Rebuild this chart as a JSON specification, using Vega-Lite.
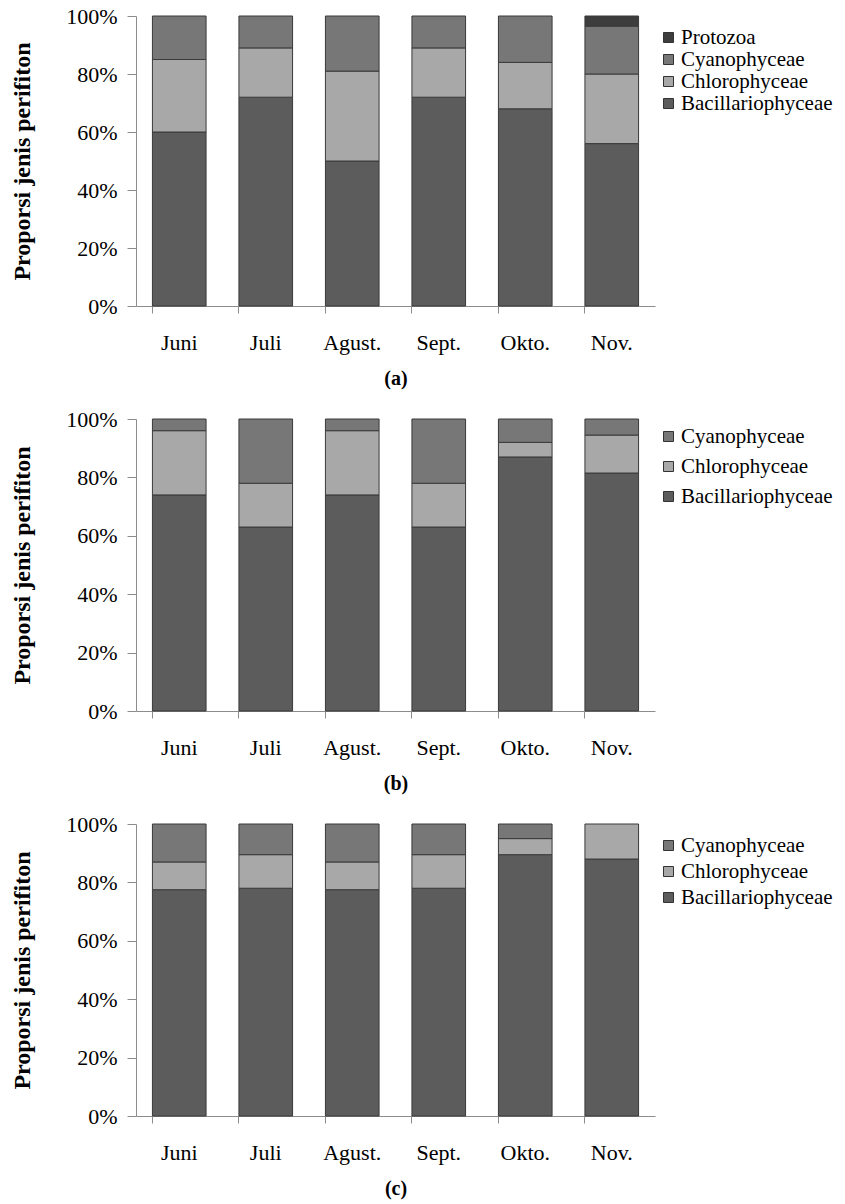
{
  "$schema": "https://vega.github.io/schema/vega-lite/v6.json",
  "background": "white",
  "padding": {"left": 10, "top": 5, "right": 2, "bottom": 5},
  "config": {
    "font": "Liberation Serif",
    "view": {"stroke": null},
    "concat": {"spacing": 20},
    "axis": {
      "labelFont": "Liberation Serif",
      "labelFontSize": 22,
      "labelColor": "#000000",
      "domainColor": "#8c8c8c",
      "tickColor": "#8c8c8c",
      "grid": false,
      "titleFont": "Liberation Serif",
      "titleFontSize": 24,
      "titleColor": "#000000",
      "titleFontWeight": "bold"
    },
    "legend": {
      "orient": "none",
      "legendX": 522,
      "symbolType": "square",
      "symbolSize": 100,
      "symbolStrokeColor": "#333333",
      "symbolStrokeWidth": 1,
      "labelFont": "Liberation Serif",
      "labelFontSize": 21,
      "labelColor": "#000000",
      "labelOffset": 2
    }
  },
  "datasets": {
    "d": [
      {"panel": "a", "bulan": "Juni", "kelas": "Bacillariophyceae", "urut": 1, "nilai": 60},
      {"panel": "a", "bulan": "Juni", "kelas": "Chlorophyceae", "urut": 2, "nilai": 25},
      {"panel": "a", "bulan": "Juni", "kelas": "Cyanophyceae", "urut": 3, "nilai": 15},
      {"panel": "a", "bulan": "Juli", "kelas": "Bacillariophyceae", "urut": 1, "nilai": 72},
      {"panel": "a", "bulan": "Juli", "kelas": "Chlorophyceae", "urut": 2, "nilai": 17},
      {"panel": "a", "bulan": "Juli", "kelas": "Cyanophyceae", "urut": 3, "nilai": 11},
      {"panel": "a", "bulan": "Agust.", "kelas": "Bacillariophyceae", "urut": 1, "nilai": 50},
      {"panel": "a", "bulan": "Agust.", "kelas": "Chlorophyceae", "urut": 2, "nilai": 31},
      {"panel": "a", "bulan": "Agust.", "kelas": "Cyanophyceae", "urut": 3, "nilai": 19},
      {"panel": "a", "bulan": "Sept.", "kelas": "Bacillariophyceae", "urut": 1, "nilai": 72},
      {"panel": "a", "bulan": "Sept.", "kelas": "Chlorophyceae", "urut": 2, "nilai": 17},
      {"panel": "a", "bulan": "Sept.", "kelas": "Cyanophyceae", "urut": 3, "nilai": 11},
      {"panel": "a", "bulan": "Okto.", "kelas": "Bacillariophyceae", "urut": 1, "nilai": 68},
      {"panel": "a", "bulan": "Okto.", "kelas": "Chlorophyceae", "urut": 2, "nilai": 16},
      {"panel": "a", "bulan": "Okto.", "kelas": "Cyanophyceae", "urut": 3, "nilai": 16},
      {"panel": "a", "bulan": "Nov.", "kelas": "Bacillariophyceae", "urut": 1, "nilai": 56},
      {"panel": "a", "bulan": "Nov.", "kelas": "Chlorophyceae", "urut": 2, "nilai": 24},
      {"panel": "a", "bulan": "Nov.", "kelas": "Cyanophyceae", "urut": 3, "nilai": 16.5},
      {"panel": "a", "bulan": "Nov.", "kelas": "Protozoa", "urut": 4, "nilai": 3.5},
      {"panel": "b", "bulan": "Juni", "kelas": "Bacillariophyceae", "urut": 1, "nilai": 74},
      {"panel": "b", "bulan": "Juni", "kelas": "Chlorophyceae", "urut": 2, "nilai": 22},
      {"panel": "b", "bulan": "Juni", "kelas": "Cyanophyceae", "urut": 3, "nilai": 4},
      {"panel": "b", "bulan": "Juli", "kelas": "Bacillariophyceae", "urut": 1, "nilai": 63},
      {"panel": "b", "bulan": "Juli", "kelas": "Chlorophyceae", "urut": 2, "nilai": 15},
      {"panel": "b", "bulan": "Juli", "kelas": "Cyanophyceae", "urut": 3, "nilai": 22},
      {"panel": "b", "bulan": "Agust.", "kelas": "Bacillariophyceae", "urut": 1, "nilai": 74},
      {"panel": "b", "bulan": "Agust.", "kelas": "Chlorophyceae", "urut": 2, "nilai": 22},
      {"panel": "b", "bulan": "Agust.", "kelas": "Cyanophyceae", "urut": 3, "nilai": 4},
      {"panel": "b", "bulan": "Sept.", "kelas": "Bacillariophyceae", "urut": 1, "nilai": 63},
      {"panel": "b", "bulan": "Sept.", "kelas": "Chlorophyceae", "urut": 2, "nilai": 15},
      {"panel": "b", "bulan": "Sept.", "kelas": "Cyanophyceae", "urut": 3, "nilai": 22},
      {"panel": "b", "bulan": "Okto.", "kelas": "Bacillariophyceae", "urut": 1, "nilai": 87},
      {"panel": "b", "bulan": "Okto.", "kelas": "Chlorophyceae", "urut": 2, "nilai": 5},
      {"panel": "b", "bulan": "Okto.", "kelas": "Cyanophyceae", "urut": 3, "nilai": 8},
      {"panel": "b", "bulan": "Nov.", "kelas": "Bacillariophyceae", "urut": 1, "nilai": 81.5},
      {"panel": "b", "bulan": "Nov.", "kelas": "Chlorophyceae", "urut": 2, "nilai": 13},
      {"panel": "b", "bulan": "Nov.", "kelas": "Cyanophyceae", "urut": 3, "nilai": 5.5},
      {"panel": "c", "bulan": "Juni", "kelas": "Bacillariophyceae", "urut": 1, "nilai": 77.5},
      {"panel": "c", "bulan": "Juni", "kelas": "Chlorophyceae", "urut": 2, "nilai": 9.5},
      {"panel": "c", "bulan": "Juni", "kelas": "Cyanophyceae", "urut": 3, "nilai": 13},
      {"panel": "c", "bulan": "Juli", "kelas": "Bacillariophyceae", "urut": 1, "nilai": 78},
      {"panel": "c", "bulan": "Juli", "kelas": "Chlorophyceae", "urut": 2, "nilai": 11.5},
      {"panel": "c", "bulan": "Juli", "kelas": "Cyanophyceae", "urut": 3, "nilai": 10.5},
      {"panel": "c", "bulan": "Agust.", "kelas": "Bacillariophyceae", "urut": 1, "nilai": 77.5},
      {"panel": "c", "bulan": "Agust.", "kelas": "Chlorophyceae", "urut": 2, "nilai": 9.5},
      {"panel": "c", "bulan": "Agust.", "kelas": "Cyanophyceae", "urut": 3, "nilai": 13},
      {"panel": "c", "bulan": "Sept.", "kelas": "Bacillariophyceae", "urut": 1, "nilai": 78},
      {"panel": "c", "bulan": "Sept.", "kelas": "Chlorophyceae", "urut": 2, "nilai": 11.5},
      {"panel": "c", "bulan": "Sept.", "kelas": "Cyanophyceae", "urut": 3, "nilai": 10.5},
      {"panel": "c", "bulan": "Okto.", "kelas": "Bacillariophyceae", "urut": 1, "nilai": 89.5},
      {"panel": "c", "bulan": "Okto.", "kelas": "Chlorophyceae", "urut": 2, "nilai": 5.5},
      {"panel": "c", "bulan": "Okto.", "kelas": "Cyanophyceae", "urut": 3, "nilai": 5},
      {"panel": "c", "bulan": "Nov.", "kelas": "Bacillariophyceae", "urut": 1, "nilai": 88},
      {"panel": "c", "bulan": "Nov.", "kelas": "Chlorophyceae", "urut": 2, "nilai": 12}
    ]
  },
  "resolve": {"scale": {"color": "independent"}, "legend": {"color": "independent"}},
  "vconcat": [
    {
      "width": 519,
      "height": 290,
      "data": {"name": "d"},
      "transform": [{"filter": "datum.panel == 'a'"}],
      "mark": {"type": "bar", "stroke": "#3a3a3a", "strokeWidth": 1},
      "encoding": {
        "x": {"field": "bulan", "type": "nominal", "sort": ["Juni", "Juli", "Agust.", "Sept.", "Okto.", "Nov."],
          "scale": {"paddingInner": 0.38, "paddingOuter": 0.19},
          "axis": {"title": "(a)", "labelAngle": 0, "bandPosition": 0, "tickSize": 7, "labelPadding": 19, "titlePadding": 15, "titleFontSize": 20}},
        "y": {"field": "nilai", "type": "quantitative", "stack": "normalize",
          "axis": {"format": ".0%", "values": [0, 0.2, 0.4, 0.6, 0.8, 1], "title": "Proporsi jenis perifiton", "tickSize": 9, "labelPadding": 10, "titlePadding": 31}},
        "color": {"field": "kelas", "type": "nominal",
          "scale": {"domain": ["Protozoa", "Cyanophyceae", "Chlorophyceae", "Bacillariophyceae"], "range": ["#3d3d3d", "#777777", "#a8a8a8", "#5c5c5c"]},
          "legend": {"title": null, "legendY": 11, "rowPadding": 0}},
        "order": {"field": "urut", "type": "quantitative"}
      }
    },
    {
      "width": 519,
      "height": 292,
      "data": {"name": "d"},
      "transform": [{"filter": "datum.panel == 'b'"}],
      "mark": {"type": "bar", "stroke": "#3a3a3a", "strokeWidth": 1},
      "encoding": {
        "x": {"field": "bulan", "type": "nominal", "sort": ["Juni", "Juli", "Agust.", "Sept.", "Okto.", "Nov."],
          "scale": {"paddingInner": 0.38, "paddingOuter": 0.19},
          "axis": {"title": "(b)", "labelAngle": 0, "bandPosition": 0, "tickSize": 7, "labelPadding": 19, "titlePadding": 15, "titleFontSize": 20}},
        "y": {"field": "nilai", "type": "quantitative", "stack": "normalize",
          "axis": {"format": ".0%", "values": [0, 0.2, 0.4, 0.6, 0.8, 1], "title": "Proporsi jenis perifiton", "tickSize": 9, "labelPadding": 10, "titlePadding": 31}},
        "color": {"field": "kelas", "type": "nominal",
          "scale": {"domain": ["Cyanophyceae", "Chlorophyceae", "Bacillariophyceae"], "range": ["#777777", "#a8a8a8", "#5c5c5c"]},
          "legend": {"title": null, "legendY": 7, "rowPadding": 8}},
        "order": {"field": "urut", "type": "quantitative"}
      }
    },
    {
      "width": 519,
      "height": 292,
      "data": {"name": "d"},
      "transform": [{"filter": "datum.panel == 'c'"}],
      "mark": {"type": "bar", "stroke": "#3a3a3a", "strokeWidth": 1},
      "encoding": {
        "x": {"field": "bulan", "type": "nominal", "sort": ["Juni", "Juli", "Agust.", "Sept.", "Okto.", "Nov."],
          "scale": {"paddingInner": 0.38, "paddingOuter": 0.19},
          "axis": {"title": "(c)", "labelAngle": 0, "bandPosition": 0, "tickSize": 7, "labelPadding": 19, "titlePadding": 15, "titleFontSize": 20}},
        "y": {"field": "nilai", "type": "quantitative", "stack": "normalize",
          "axis": {"format": ".0%", "values": [0, 0.2, 0.4, 0.6, 0.8, 1], "title": "Proporsi jenis perifiton", "tickSize": 9, "labelPadding": 10, "titlePadding": 31}},
        "color": {"field": "kelas", "type": "nominal",
          "scale": {"domain": ["Cyanophyceae", "Chlorophyceae", "Bacillariophyceae"], "range": ["#777777", "#a8a8a8", "#5c5c5c"]},
          "legend": {"title": null, "legendY": 11, "rowPadding": 4}},
        "order": {"field": "urut", "type": "quantitative"}
      }
    }
  ]
}
